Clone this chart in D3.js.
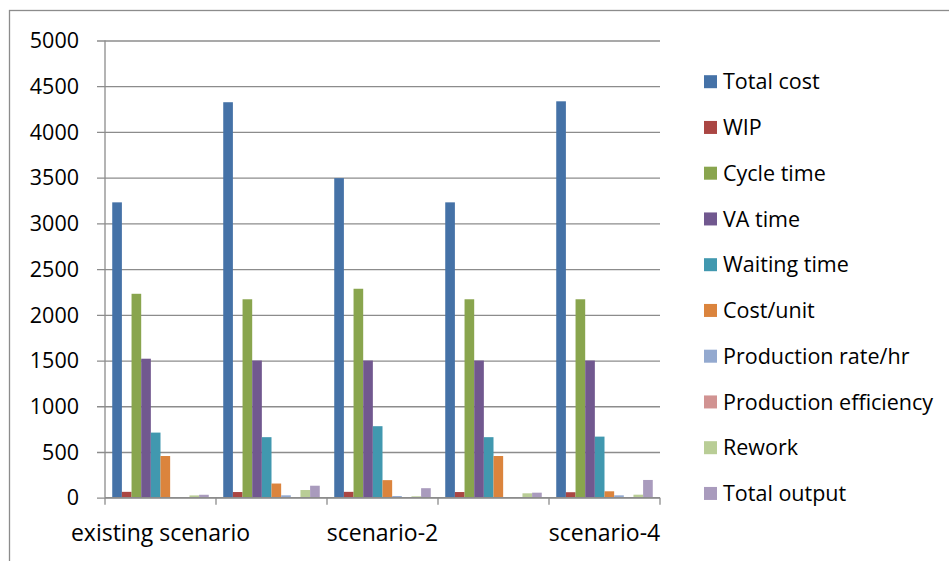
<!DOCTYPE html>
<html>
<head>
<meta charset="utf-8">
<script src="https://cdn.jsdelivr.net/npm/d3@7"></script>
<style>
  html, body { margin: 0; padding: 0; background: #fff; }
  svg { display: block; font-family: "Open Sans", Lato, sans-serif; }
</style>
</head>
<body>
<svg id="chart" width="949" height="561"></svg>
<script>
// Scenarios along the x axis
const categories = ["existing scenario", "scenario-1", "scenario-2", "scenario-3", "scenario-4"];
// Only every other scenario gets a label on the axis
const shownLabels = ["existing scenario", "scenario-2", "scenario-4"];

// Performance measures (one bar each per scenario)
const seriesNames = ["Total cost", "WIP", "Cycle time", "VA time", "Waiting time",
  "Cost/unit", "Production rate/hr", "Production efficiency", "Rework", "Total output"];

const totalCost       = [3230, 4325, 3495, 3230, 4335];
const wip             = [64, 62, 64, 62, 60];
const cycleTime       = [2230, 2170, 2285, 2170, 2170];
const vaTime          = [1520, 1500, 1500, 1500, 1500];
const waitingTime     = [712, 662, 782, 662, 668];
const costPerUnit     = [456, 155, 192, 456, 70];
const productionRate  = [4, 26, 18, 4, 26];
const productionEff   = [1, 1, 1, 1, 1];
const rework          = [25, 84, 15, 48, 33];
const totalOutput     = [32, 131, 104, 55, 194];

const seriesValues = [totalCost, wip, cycleTime, vaTime, waitingTime,
  costPerUnit, productionRate, productionEff, rework, totalOutput];

const yTicks = [0, 500, 1000, 1500, 2000, 2500, 3000, 3500, 4000, 4500, 5000];

const colors = ["#4572A7", "#AA4643", "#89A54E", "#71588F", "#4198AF",
  "#DB843D", "#93A9CF", "#D19392", "#B9CD96", "#A99BBD"];

const svg = d3.select("#chart");
const plot = { left: 105, right: 660, top: 40.5, bottom: 497.7 };
const gridColor = "#8c8c8c";
const fontSize = 21.5;
const catFontSize = 23;

// Outer chart frame (runs off the right and bottom edges)
svg.append("rect")
  .attr("x", 9.5).attr("y", 10.5)
  .attr("width", 1000).attr("height", 600)
  .attr("fill", "none").attr("stroke", gridColor).attr("stroke-width", 1.3);

const x0 = d3.scaleBand().domain(categories).range([plot.left, plot.right]).padding(0);
const bw = x0.bandwidth();
const barW = bw / 11.5;            // 150% gap between clusters
const x1 = d3.scaleBand().domain(seriesNames).range([0.75 * barW, bw - 0.75 * barW]).padding(0);
const y = d3.scaleLinear().domain([0, 5000]).range([plot.bottom, plot.top]);

// Horizontal gridlines with y tick marks
const yAxis = d3.axisLeft(y).tickValues(yTicks).tickSize(-(plot.right - plot.left)).tickPadding(0).tickFormat("");
const gy = svg.append("g").attr("transform", `translate(${plot.left},0)`).call(yAxis);
gy.select(".domain").remove();
gy.selectAll(".tick line").attr("x1", -8).attr("stroke", gridColor).attr("stroke-width", 1.3);

// Y tick labels
svg.append("g").selectAll("text").data(yTicks).join("text")
  .attr("x", 79).attr("y", d => y(d))
  .attr("dy", "0.36em")
  .attr("text-anchor", "end")
  .attr("font-size", fontSize).attr("fill", "#000")
  .text(d => d);

// Bars
const groups = svg.append("g").selectAll("g").data(seriesNames).join("g")
  .attr("fill", (d, i) => colors[i]);
groups.selectAll("rect")
  .data((name, i) => categories.map((c, j) => ({ c, name, v: seriesValues[i][j] })))
  .join("rect")
  .attr("x", d => x0(d.c) + x1(d.name))
  .attr("width", x1.bandwidth())
  .attr("y", d => y(d.v))
  .attr("height", d => y(0) - y(d.v));

// Y axis line
svg.append("line")
  .attr("x1", plot.left).attr("x2", plot.left)
  .attr("y1", plot.top).attr("y2", plot.bottom)
  .attr("stroke", gridColor).attr("stroke-width", 1.3);

// X axis with category boundary ticks
const boundaries = categories.map(c => x0(c)).concat([plot.right]);
svg.append("line")
  .attr("x1", plot.left).attr("x2", plot.right)
  .attr("y1", plot.bottom).attr("y2", plot.bottom)
  .attr("stroke", gridColor).attr("stroke-width", 1.3);
svg.append("g").selectAll("line").data(boundaries).join("line")
  .attr("x1", d => d).attr("x2", d => d)
  .attr("y1", plot.bottom).attr("y2", plot.bottom + 7)
  .attr("stroke", gridColor).attr("stroke-width", 1.3);

svg.append("g").selectAll("text").data(shownLabels).join("text")
  .attr("x", d => x0(d) + bw / 2)
  .attr("y", 541)
  .attr("text-anchor", "middle")
  .attr("font-size", catFontSize).attr("fill", "#000")
  .text(d => d);

// Legend
const legend = svg.append("g").selectAll("g").data(seriesNames).join("g")
  .attr("transform", (d, i) => `translate(704,${81.7 + i * 45.75})`);
legend.append("rect")
  .attr("x", 0).attr("y", -6.5).attr("width", 13).attr("height", 13)
  .attr("fill", (d, i) => colors[i]);
legend.append("text")
  .attr("x", 19).attr("y", 0).attr("dy", "0.36em")
  .attr("font-size", fontSize).attr("fill", "#000")
  .text(d => d);
</script>
</body>
</html>
